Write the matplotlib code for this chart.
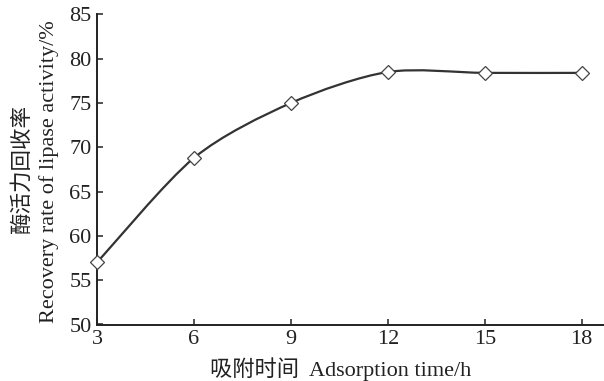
import matplotlib
matplotlib.use('Agg')
import matplotlib.pyplot as plt
from matplotlib.path import Path
from matplotlib.patches import PathPatch

plt.rcParams['font.family'] = ['Liberation Serif', 'Noto Sans CJK SC']

# adsorption time (h) vs recovery rate of lipase activity (%)
hours = [3, 6, 9, 12, 15, 18]
recovery = [57.0, 68.8, 75.0, 78.5, 78.4, 78.4]
x_ticks = [3, 6, 9, 12, 15, 18]
y_ticks = [50, 55, 60, 65, 70, 75, 80, 85]


def smooth_path(xs, ys, k=7.0):
    # catmull-rom segments turned into cubic bezier pieces
    pts = list(zip(xs, ys))
    verts = [pts[0]]
    codes = [Path.MOVETO]
    n = len(pts)
    for i in range(n - 1):
        p0 = pts[i - 1] if i > 0 else pts[i]
        p1 = pts[i]
        p2 = pts[i + 1]
        p3 = pts[i + 2] if i + 2 < n else pts[i + 1]
        c1 = (p1[0] + (p2[0] - p0[0]) / k, p1[1] + (p2[1] - p0[1]) / k)
        c2 = (p2[0] - (p3[0] - p1[0]) / k, p2[1] - (p3[1] - p1[1]) / k)
        verts += [c1, c2, p2]
        codes += [Path.CURVE4] * 3
    return Path(verts, codes)


fig = plt.figure(figsize=(6.04, 3.81), dpi=100)
ax = fig.add_axes([97 / 604, 1 - 324.5 / 381, 1 - 97 / 604, (324.5 - 14.4) / 381])

ax.add_patch(PathPatch(smooth_path(hours, recovery), facecolor='none',
                       edgecolor='#333333', lw=1.6, zorder=2))
ax.plot(hours, recovery, linestyle='none', marker='D', ms=7.6,
        mfc='white', mec='#444444', mew=0.9, zorder=3, clip_on=False)

ax.set_xlim(3, 18.69)
ax.set_ylim(50, 85)
ax.set_xticks(x_ticks)
ax.set_yticks(y_ticks)
ax.tick_params(direction='in', length=4, width=1.1, labelsize=16, pad=4,
               colors='#222222')
for side in ['top', 'right']:
    ax.spines[side].set_visible(False)
for side in ['left', 'bottom']:
    ax.spines[side].set_linewidth(1.4)
    ax.spines[side].set_color('#222222')

fig.text(22 / 604, 1 - 170 / 381, '酶活力回收率', rotation=90, fontsize=15.5,
         ha='center', va='center', color='#222222')
fig.text(49 / 604, 1 - 172 / 381, 'Recovery rate of lipase activity/%',
         rotation=90, fontsize=16, ha='center', va='center', color='#222222')
fig.text(341 / 604, 1 - 369 / 381, '吸附时间  Adsorption time/h', fontsize=16,
         ha='center', va='center', color='#222222')

fig.savefig('out.png', dpi=100)
